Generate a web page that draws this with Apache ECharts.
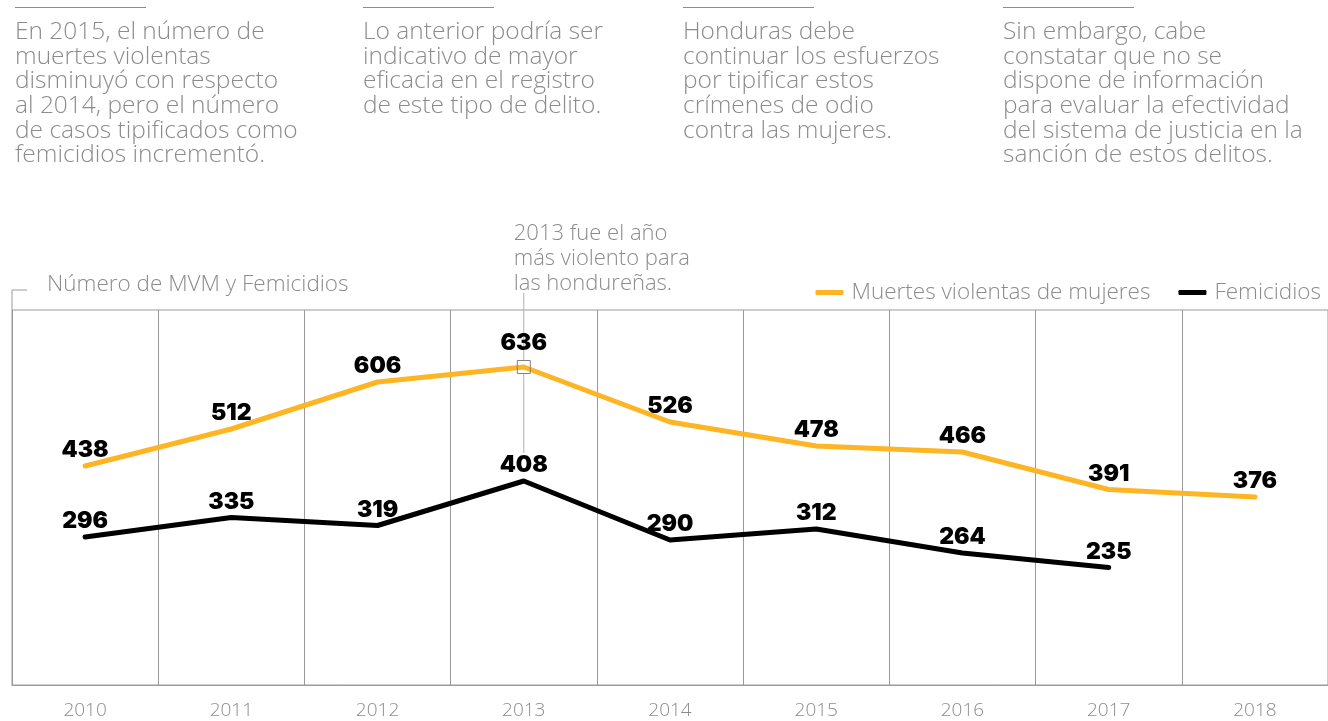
<!DOCTYPE html>
<html>
<head>
<meta charset="utf-8">
<script src="https://cdn.jsdelivr.net/npm/echarts@6/dist/echarts.min.js"></script>
<style>
  html, body { margin: 0; padding: 0; background: #fff; }
  #chart-main { width: 1328px; height: 721px; }
</style>
</head>
<body>
<div id="chart-main"></div>
<script>
// Muertes violentas de mujeres y femicidios, Honduras 2010-2018
const years = ['2010', '2011', '2012', '2013', '2014', '2015', '2016', '2017', '2018'];
const mvmValues = [438, 512, 606, 636, 526, 478, 466, 391, 376];
const femicidioValues = [296, 335, 319, 408, 290, 312, 264, 235, null];
const seriesNames = ['Muertes violentas de mujeres', 'Femicidios'];
const peakIndex = 3;

const notes = [
    'En 2015, el número de\nmuertes violentas\ndisminuyó con respecto\nal 2014, pero el número\nde casos tipificados como\nfemicidios incrementó.',
    'Lo anterior podría ser\nindicativo de mayor\neficacia en el registro\nde este tipo de delito.',
    'Honduras debe\ncontinuar los esfuerzos\npor tipificar estos\ncrímenes de odio\ncontra las mujeres.',
    'Sin embargo, cabe\nconstatar que no se\ndispone de información\npara evaluar la efectividad\ndel sistema de justicia en la\nsanción de estos delitos.'
];
const noteX = [15, 363, 683, 1003];
const peakNote = '2013 fue el año\nmás violento para\nlas hondureñas.';
const axisTitle = 'Número de MVM y Femicidios';

const colors = {
    yellow: '#fdb524',
    black: '#000000',
    grid: '#9a9a9a',
    text: '#8c8c8c'
};
const lightFont = 'Open Sans';
const boldFont = 'Inter';

const chart = echarts.init(document.getElementById('chart-main'));

const labelStyle = {
    show: true,
    position: 'top',
    distance: 4,
    color: '#000',
    fontFamily: boldFont,
    fontWeight: 900,
    fontSize: 23
};

const mvmData = mvmValues.map((v, i) => i === peakIndex ? {
    value: v,
    symbol: 'rect',
    symbolSize: 13,
    itemStyle: { color: 'rgba(0,0,0,0)', borderColor: '#808080', borderWidth: 1 },
    label: { distance: 5 }
} : v);

// note blocks at the top
const noteGraphics = [];
notes.forEach((t, i) => {
    noteGraphics.push({
        type: 'line', silent: true,
        shape: { x1: noteX[i], y1: 7.5, x2: noteX[i] + 131, y2: 7.5 },
        style: { stroke: colors.text, lineWidth: 1 }
    });
    noteGraphics.push({
        type: 'text', silent: true,
        x: noteX[i], y: 20,
        style: {
            text: t, fill: colors.text, fontFamily: lightFont, fontWeight: 300,
            fontSize: 24.5, lineHeight: 24.6
        }
    });
});

const option = {
    animation: false,
    textStyle: { fontFamily: lightFont },
    grid: {
        show: true, left: 12, right: 0, top: 310, bottom: 36,
        borderColor: colors.grid, borderWidth: 1
    },
    legend: {
        data: seriesNames,
        right: 2, top: 276,
        icon: 'roundRect',
        itemWidth: 28, itemHeight: 5,
        itemGap: 28,
        textStyle: { color: colors.text, fontSize: 22.5, fontWeight: 300, fontFamily: lightFont, padding: [0, 0, 0, 3] }
    },
    xAxis: {
        type: 'category',
        data: years,
        boundaryGap: true,
        axisLine: { lineStyle: { color: colors.grid } },
        axisTick: { show: false },
        splitLine: { show: true, interval: 0, lineStyle: { color: colors.grid, width: 1 } },
        axisLabel: { color: colors.text, fontSize: 19, fontWeight: 300, fontFamily: lightFont, margin: 16 }
    },
    yAxis: {
        type: 'value',
        min: 0, max: 750,
        show: false,
        splitLine: { show: false }
    },
    series: [
        {
            name: seriesNames[0],
            type: 'line',
            data: mvmData,
            symbol: 'circle',
            symbolSize: 0,
            showSymbol: true,
            color: colors.yellow,
            lineStyle: { color: colors.yellow, width: 5, cap: 'round', join: 'round' },
            label: labelStyle,
            emphasis: { disabled: true },
            z: 3
        },
        {
            name: seriesNames[1],
            type: 'line',
            data: femicidioValues,
            symbol: 'circle',
            symbolSize: 0,
            showSymbol: true,
            color: colors.black,
            lineStyle: { color: colors.black, width: 5, cap: 'round', join: 'round' },
            label: labelStyle,
            emphasis: { disabled: true },
            z: 4
        }
    ]
};
chart.setOption(option);

// annotations placed from the chart's own scales
const peakTop = chart.convertToPixel({ seriesIndex: 0 }, [peakIndex, mvmValues[peakIndex]]);
const femPeak = chart.convertToPixel({ seriesIndex: 1 }, [peakIndex, femicidioValues[peakIndex]]);
const gridLeft = chart.convertToPixel({ xAxisIndex: 0 }, years[0]) - chart.getModel().getComponent('xAxis').axis.getBandWidth() / 2;
const gridTop = chart.convertToPixel({ yAxisIndex: 0 }, 750);

chart.setOption({
    graphic: noteGraphics.concat([
        {
            type: 'polyline', silent: true,
            shape: { points: [[gridLeft + 15, gridTop - 20], [gridLeft, gridTop - 20], [gridLeft, gridTop]] },
            style: { stroke: colors.grid, lineWidth: 1, fill: null }
        },
        {
            type: 'text', silent: true,
            x: gridLeft + 35, y: gridTop - 37,
            style: { text: axisTitle, fill: colors.text, fontFamily: lightFont, fontWeight: 300, fontSize: 22.5 }
        },
        {
            type: 'line', silent: true,
            shape: { x1: peakTop[0], y1: gridTop - 17, x2: peakTop[0], y2: peakTop[1] - 6 },
            style: { stroke: '#b0b0b0', lineWidth: 1 }
        },
        {
            type: 'line', silent: true,
            shape: { x1: peakTop[0], y1: peakTop[1] + 7, x2: peakTop[0], y2: femPeak[1] - 28 },
            style: { stroke: '#b0b0b0', lineWidth: 1 }
        },
        {
            type: 'text', silent: true,
            x: peakTop[0] - 10, y: gridTop - 89,
            style: { text: peakNote, fill: colors.text, fontFamily: lightFont, fontWeight: 300, fontSize: 22, lineHeight: 25 }
        }
    ])
});

window.addEventListener('resize', () => chart.resize());
</script>
</body>
</html>
